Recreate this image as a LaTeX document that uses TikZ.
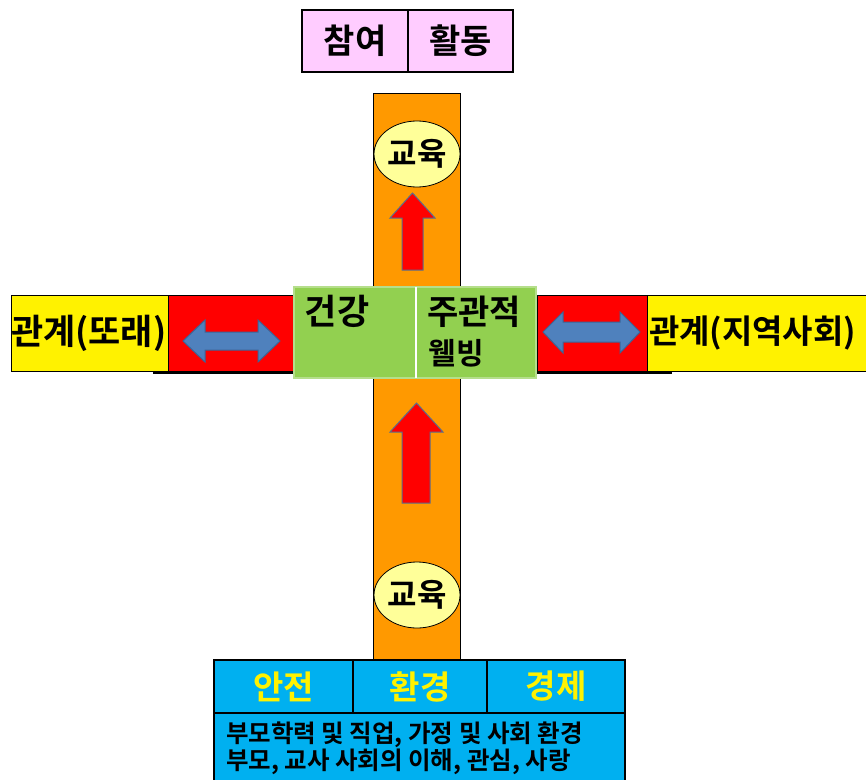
\documentclass[tikz,border=0pt]{standalone}
\usepackage{fontspec}
\newfontfamily\kr{Noto Sans CJK KR Bold}
\usetikzlibrary{positioning,shapes.geometric}

\definecolor{pinkfill}{HTML}{FFCCFF}
\definecolor{orangefill}{HTML}{FF9900}
\definecolor{ovalfill}{HTML}{FFFF99}
\definecolor{greenfill}{HTML}{92D050}
\definecolor{greenline}{HTML}{B5DE8C}
\definecolor{cyanfill}{HTML}{00B0F0}
\definecolor{bluearrow}{HTML}{4F81BD}
\definecolor{blueline}{HTML}{3C6496}
\definecolor{slateline}{HTML}{5A6E8C}

\begin{document}
\begin{tikzpicture}[x=1pt, y=-1pt,
	every node/.style={inner sep=0pt, outer sep=0pt},
	pinkcell/.style={draw=black, line width=2.5pt, fill=pinkfill, minimum height=62pt, font=\kr\fontsize{34}{38}\selectfont},
	bar/.style={draw=black, line width=1pt, fill=orangefill, minimum width=87pt},
	redcell/.style={draw=black, line width=0.8pt, fill=red, minimum height=76pt},
	yellowcell/.style={draw=black, line width=0.8pt, fill=yellow, minimum height=76pt},
	greencell/.style={draw=greenline, line width=1.2pt, fill=greenfill, minimum height=91pt},
	bigtext/.style={font=\kr\fontsize{35}{38}\selectfont},
	oval/.style={ellipse, draw=black, line width=0.8pt, fill=ovalfill, minimum width=86pt, minimum height=66pt, font=\kr\fontsize{32}{34}\selectfont},
	upred/.style={fill=red, draw=slateline, line width=1pt},
	twoway/.style={fill=bluearrow, draw=blueline, line width=1pt},
	cyancell/.style={draw=black, line width=2.5pt, fill=cyanfill, minimum height=53pt, text=yellow, font=\kr\fontsize{33}{36}\selectfont}]
	\useasboundingbox (0,0) rectangle (866,779);
	% top box
	\node[pinkcell, minimum width=106pt] (part) at (355,41) {참여};
	\node[pinkcell, minimum width=105pt, right=0pt of part] (act) {활동};
	% vertical bars
	\node[bar, minimum height=195pt] (bartop) at (416.5,190.5) {};
	\node[bar, minimum height=282pt] (barbot) at (416.5,519) {};
	% left side
	\draw[line width=1.2pt] (153,373) -- (295,373);
	\node[redcell, minimum width=127pt] (redleft) at (231.5,333) {};
	\node[yellowcell, minimum width=157pt, left=0pt of redleft] (peer) {};
	\node[bigtext, anchor=west] at ([xshift=0pt]peer.west) {관계(또래)};
	% right side
	\draw[line width=1.2pt] (537,373) -- (672,373);
	\node[redcell, minimum width=110pt] (redright) at (592,333) {};
	\node[yellowcell, minimum width=223pt, right=0pt of redright] (region) {};
	\node[font=\kr\fontsize{33}{36}\selectfont, anchor=west] at ([xshift=2pt]region.west) {관계(지역사회)};
	% center
	\node[greencell, minimum width=122pt] (health) at (355,332.5) {};
	\node[greencell, minimum width=120pt, right=0pt of health] (wellbeing) {};
	\draw[white, line width=1.5pt] (health.north east) -- (health.south east);
	\node[bigtext] (healthtxt) at (337,311) {건강};
	\node[font=\kr\fontsize{34}{38}\selectfont] (subjtxt) at (474,312) {주관적};
	\node[font=\kr\fontsize{30}{34}\selectfont] (welltxt) at (456,353) {웰빙};
	% education
	\node[oval] (edutop) at (417,154) {교육};
	\node[oval] (edubot) at (417,595) {교육};
	\draw[upred] (412.5,193) -- (435,218) -- (423,218) -- (423,270) -- (402,270) -- (402,218) -- (390,218) -- cycle;
	\draw[upred] (416.5,403) -- (443,432) -- (430,432) -- (430,503) -- (402,503) -- (402,432) -- (390,432) -- cycle;
	% double arrows
	\draw[twoway] (183,341) -- (205,320) -- (205,332) -- (258,332) -- (258,320) -- (280,341) -- (258,362) -- (258,350) -- (205,350) -- (205,362) -- cycle;
	\draw[twoway] (543,332) -- (563,312) -- (563,322) -- (620,322) -- (620,312) -- (640,332) -- (620,353) -- (620,342) -- (563,342) -- (563,353) -- cycle;
	% bottom box
	\node[cyancell, minimum width=139pt] (safety) at (283.5,686.5) {안전};
	\node[cyancell, minimum width=134pt, right=0pt of safety] (environ) {환경};
	\node[cyancell, minimum width=138pt, right=0pt of environ] (economy) {경제};
	\node[draw=black, line width=2.5pt, fill=cyanfill, minimum width=411pt, minimum height=69pt] (factors) at (419.5,747.5) {};
	\node[anchor=west, align=left, font=\kr\fontsize{24.5}{27}\selectfont] (factorstxt) at (226,748) {부모학력 및 직업, 가정 및 사회 환경\\부모, 교사 사회의 이해, 관심, 사랑};
\end{tikzpicture}
\end{document}
